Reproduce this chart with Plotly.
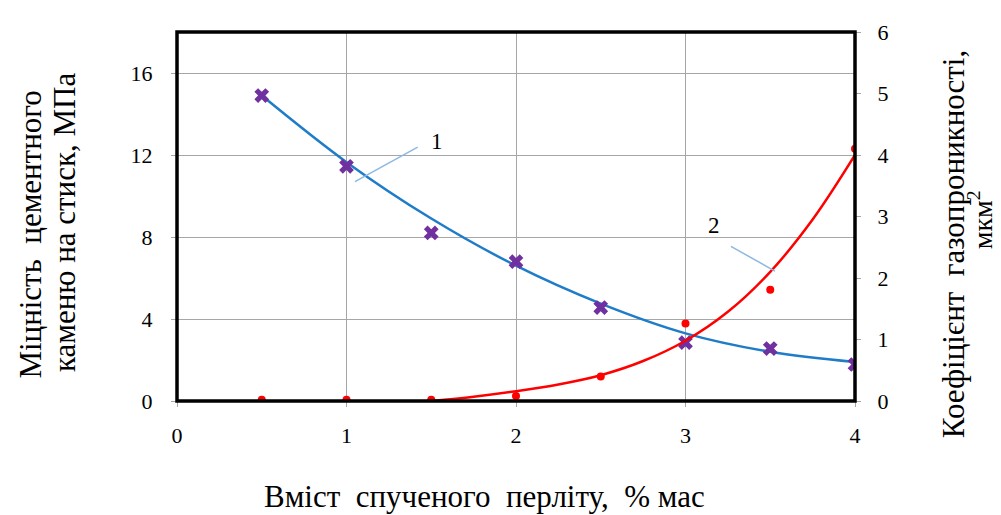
import plotly.graph_objects as go

# Data
x_pts = [0.5, 1, 1.5, 2, 2.5, 3, 3.5, 4]
strength = [14.9, 11.45, 8.2, 6.8, 4.56, 2.85, 2.56, 1.78]
permeab = [0.02, 0.02, 0.02, 0.08, 0.4, 1.26, 1.81, 4.1]

# Trend curves
trend1_x = [0.5, 1, 1.5, 2, 2.5, 3, 3.5, 4]
trend1_y = [14.9, 11.65, 8.9, 6.6, 4.75, 3.3, 2.4, 1.9]
trend2_x = [1.5, 1.75, 2, 2.25, 2.5, 2.75, 3, 3.25, 3.5, 3.75, 4]
trend2_y = [0.0, 0.07, 0.16, 0.27, 0.42, 0.65, 0.98, 1.45, 2.1, 2.95, 4.0]

x_ticks = [0, 1, 2, 3, 4]
left_ticks = [0, 4, 8, 12, 16]
right_ticks = [0, 1, 2, 3, 4, 5, 6]

NB = "\u00a0"
x_title = f"Вміст{NB}{NB}спученого{NB}{NB}перліту,{NB}{NB}%{NB}мас"
y_title_1 = f"Міцність{NB}{NB}цементного"
y_title_2 = "каменю на стиск, МПа"
y2_title_1 = f"Коефіцієнт{NB}{NB}газопроникності,"
y2_title_2 = "мкм<sup>2</sup>"

FONT = "Liberation Serif, Times New Roman, serif"
BLUE = "#1F7CC8"
RED = "#FF0000"
PURPLE = "#7030A0"

fig = go.Figure()
fig.add_trace(go.Scatter(x=trend1_x, y=trend1_y, mode="lines",
                         line=dict(color=BLUE, width=2.5, shape="spline"),
                         yaxis="y", showlegend=False, hoverinfo="skip"))
fig.add_trace(go.Scatter(x=trend2_x, y=trend2_y, mode="lines",
                         line=dict(color=RED, width=2.5, shape="spline"),
                         yaxis="y2", showlegend=False, hoverinfo="skip"))
fig.add_trace(go.Scatter(x=x_pts, y=strength, mode="markers",
                         marker=dict(symbol="x", size=13, color=PURPLE,
                                     line=dict(width=0)),
                         yaxis="y", showlegend=False))
fig.add_trace(go.Scatter(x=x_pts, y=permeab, mode="markers",
                         marker=dict(symbol="circle", size=8, color=RED,
                                     line=dict(width=0)),
                         yaxis="y2", showlegend=False))

# leader lines and labels
fig.add_shape(type="line", x0=1.05, y0=10.7, x1=1.42, y1=12.38,
              xref="x", yref="y", line=dict(color="#8DB8E0", width=1.5))
fig.add_annotation(x=1.534, y=12.67, xref="x", yref="y", text="1",
                   showarrow=False, font=dict(family=FONT, size=23, color="black"))
fig.add_shape(type="line", x0=3.268, y0=7.54, x1=3.528, y1=6.34,
              xref="x", yref="y", line=dict(color="#8DB8E0", width=1.5))
fig.add_annotation(x=3.168, y=8.54, xref="x", yref="y", text="2",
                   showarrow=False, font=dict(family=FONT, size=23, color="black"))

# axis titles as positioned annotations
TF = dict(family=FONT, size=31, color="black")
common = dict(xref="paper", yref="paper", showarrow=False,
              xanchor="center", yanchor="middle")
fig.add_annotation(text=x_title, x=0.454, y=-0.259,
                   font=dict(family=FONT, size=31, color="black"), **common)
fig.add_annotation(text=y_title_1, x=-0.2153, y=0.451, textangle=-90, font=TF, **common)
fig.add_annotation(text=y_title_2, x=-0.1667, y=0.485, textangle=-90, font=TF, **common)
fig.add_annotation(text=y2_title_1, x=1.1455, y=0.424, textangle=-90,
                   font=dict(family=FONT, size=31, color="black"), **common)
fig.add_annotation(text=y2_title_2, x=1.1844, y=0.49, textangle=-90,
                   font=dict(family=FONT, size=28, color="black"), **common)

# frame
fig.add_shape(type="rect", xref="paper", yref="paper", x0=0, y0=0, x1=1, y1=1,
              line=dict(color="black", width=3.5), layer="above")

fig.update_layout(
    width=1001, height=515,
    margin=dict(l=169, r=154, t=18, b=122),
    paper_bgcolor="white", plot_bgcolor="white",
    font=dict(family=FONT, size=22, color="black"),
    xaxis=dict(range=[0, 4], tickvals=x_ticks, showgrid=True, gridcolor="#A6A6A6",
               gridwidth=1, zeroline=False, ticks="outside", ticklen=5,
               tickcolor="#A6A6A6", showline=False, ticklabelstandoff=10),
    yaxis=dict(range=[0, 18], tickvals=left_ticks, showgrid=True, gridcolor="#A6A6A6",
               gridwidth=1, zeroline=False, ticks="outside", ticklen=5,
               tickcolor="#A6A6A6", showline=False, ticklabelstandoff=14),
    yaxis2=dict(range=[0, 6], tickvals=right_ticks, overlaying="y", side="right",
                showgrid=False, zeroline=False, ticks="outside", ticklen=5,
                tickcolor="#A6A6A6", showline=False, ticklabelstandoff=12),
)

fig.write_html("out.html")
